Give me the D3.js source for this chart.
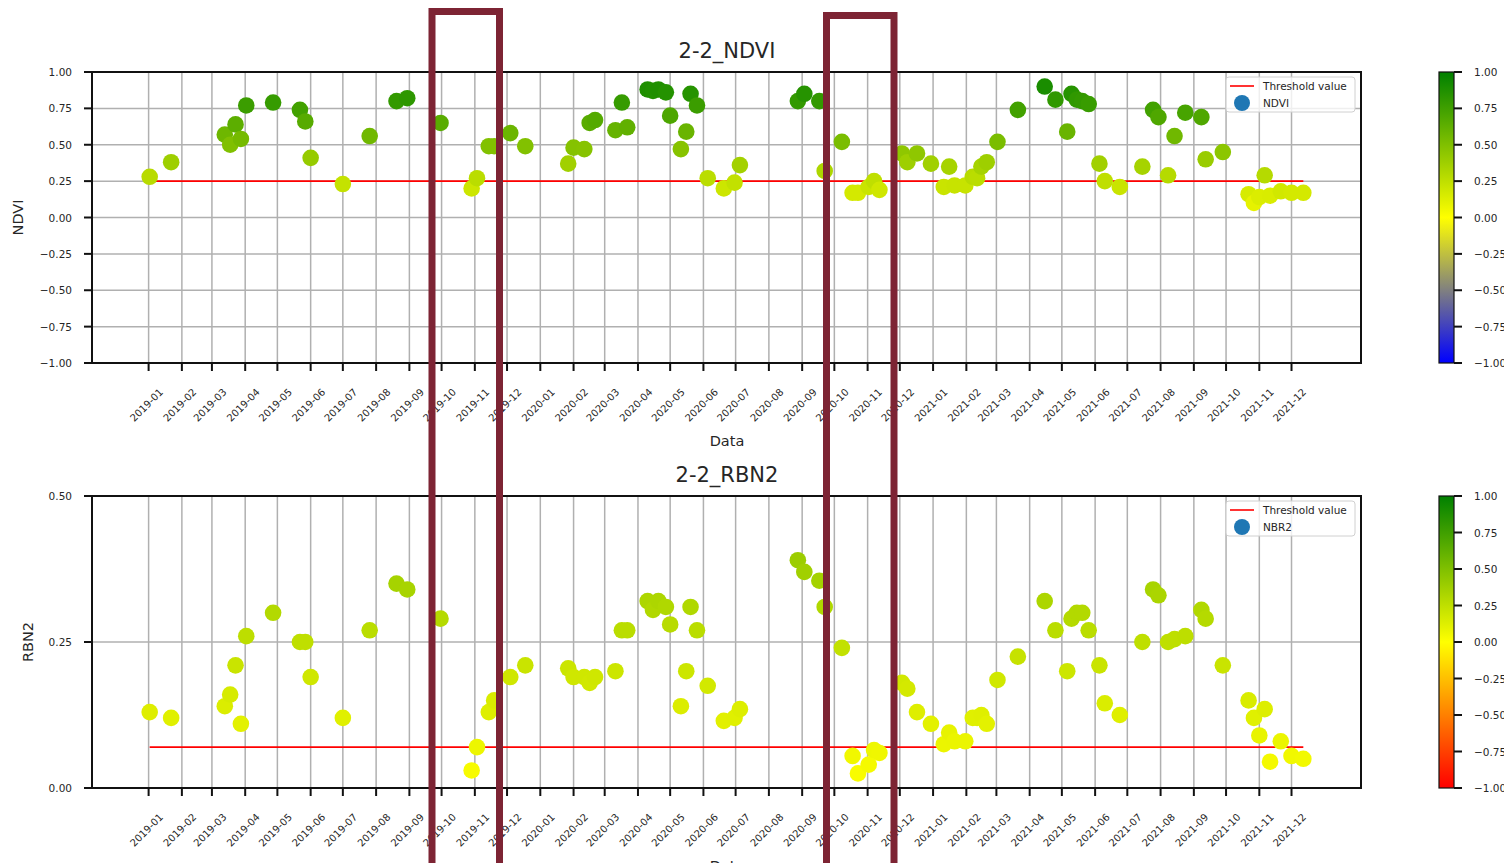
<!DOCTYPE html>
<html lang="en">

<head>
    <meta charset="UTF-8">
    <title>2-2 NDVI / RBN2</title>
    <script src="https://cdn.jsdelivr.net/npm/d3@7"></script>
    <style>
        body { margin: 0; background: white; }
        text { font-family: "DejaVu Sans", sans-serif; fill: #262626; }
    </style>
</head>

<body>
    <svg id="chart" width="1504" height="863"></svg>

    <script type="text/javascript">

        // acquisition dates (same for both indices)
        const dates = [
            "2019-01-02", "2019-01-22", "2019-03-13", "2019-03-18", "2019-03-23", "2019-03-28", "2019-04-02", "2019-04-27",
            "2019-05-22", "2019-05-27", "2019-06-01", "2019-07-01", "2019-07-26", "2019-08-20", "2019-08-30", "2019-09-30",
            "2019-10-29", "2019-11-03", "2019-11-14", "2019-11-19", "2019-12-04", "2019-12-18",
            "2020-01-27", "2020-02-01", "2020-02-11", "2020-02-16", "2020-02-21", "2020-03-11", "2020-03-17", "2020-03-22",
            "2020-04-10", "2020-04-15", "2020-04-20", "2020-04-27", "2020-05-01", "2020-05-11", "2020-05-16", "2020-05-20",
            "2020-05-26", "2020-06-05", "2020-06-20", "2020-06-30", "2020-07-05", "2020-08-28", "2020-09-03", "2020-09-17",
            "2020-09-22", "2020-10-08", "2020-10-18", "2020-10-23", "2020-11-02", "2020-11-07", "2020-11-12", "2020-12-03",
            "2020-12-08", "2020-12-17", "2020-12-30",
            "2021-01-11", "2021-01-16", "2021-01-21", "2021-01-31", "2021-02-07", "2021-02-11", "2021-02-15", "2021-02-20",
            "2021-03-02", "2021-03-21", "2021-04-15", "2021-04-25", "2021-05-06", "2021-05-10", "2021-05-15", "2021-05-20",
            "2021-05-26", "2021-06-05", "2021-06-10", "2021-06-24", "2021-07-15", "2021-07-25", "2021-07-30", "2021-08-08",
            "2021-08-14", "2021-08-24", "2021-09-08", "2021-09-12", "2021-09-28", "2021-10-22", "2021-10-27", "2021-11-01",
            "2021-11-06", "2021-11-11", "2021-11-21", "2021-12-01", "2021-12-12"
        ]

        const ndvi = [
            0.28, 0.38, 0.57, 0.50, 0.64, 0.54, 0.77, 0.79, 0.74, 0.66, 0.41, 0.23, 0.56, 0.80, 0.82, 0.65,
            0.20, 0.27, 0.49, 0.49, 0.58, 0.49,
            0.37, 0.48, 0.47, 0.65, 0.67, 0.60, 0.79, 0.62, 0.88, 0.87, 0.88, 0.86, 0.70, 0.47, 0.59, 0.85,
            0.77, 0.27, 0.20, 0.24, 0.36, 0.80, 0.85, 0.80, 0.32, 0.52, 0.17, 0.17, 0.21, 0.25, 0.19, 0.44,
            0.38, 0.44, 0.37,
            0.21, 0.35, 0.22, 0.22, 0.28, 0.27, 0.35, 0.38, 0.52, 0.74, 0.90, 0.81, 0.59, 0.85, 0.81, 0.80,
            0.78, 0.37, 0.25, 0.21, 0.35, 0.74, 0.69, 0.29, 0.56, 0.72, 0.69, 0.40, 0.45, 0.16, 0.10, 0.14,
            0.29, 0.15, 0.18, 0.17, 0.17
        ]

        const rbn2 = [
            0.13, 0.12, 0.14, 0.16, 0.21, 0.11, 0.26, 0.30, 0.25, 0.25, 0.19, 0.12, 0.27, 0.35, 0.34, 0.29,
            0.03, 0.07, 0.13, 0.15, 0.19, 0.21,
            0.205, 0.19, 0.19, 0.18, 0.19, 0.20, 0.27, 0.27, 0.32, 0.305, 0.32, 0.31, 0.28, 0.14, 0.20, 0.31,
            0.27, 0.175, 0.115, 0.12, 0.135, 0.39, 0.37, 0.355, 0.31, 0.24, 0.055, 0.025, 0.04, 0.065, 0.06, 0.18,
            0.17, 0.13, 0.11,
            0.075, 0.095, 0.08, 0.08, 0.12, 0.12, 0.125, 0.11, 0.185, 0.225, 0.32, 0.27, 0.20, 0.29, 0.30, 0.30,
            0.27, 0.21, 0.145, 0.125, 0.25, 0.34, 0.33, 0.25, 0.255, 0.26, 0.305, 0.29, 0.21, 0.15, 0.12, 0.09,
            0.135, 0.045, 0.08, 0.055, 0.05
        ]

        const thresholdNdvi = 0.25
        const thresholdRbn2 = 0.07

        const ndviTicks = [-1, -0.75, -0.5, -0.25, 0, 0.25, 0.5, 0.75, 1]
        const rbn2Ticks = [0, 0.25, 0.5]
        const cbarTicks = [-1, -0.75, -0.5, -0.25, 0, 0.25, 0.5, 0.75, 1]

        const svg = d3.select('#chart')
        const parse = d3.utcParse('%Y-%m-%d')
        const xDates = dates.map(parse)

        // matplotlib style 5% margins
        const [d0, d1] = d3.extent(xDates)
        const pad = (d1 - d0) * 0.05
        const x = d3.scaleUtc()
            .domain([new Date(+d0 - pad), new Date(+d1 + pad)])
            .range([92, 1361])

        const months = d3.utcMonth.range(new Date(Date.UTC(2019, 0, 1)), new Date(Date.UTC(2022, 0, 1)))
        const fmt = d3.format('.2f')

        function panel(cfg) {
            const y = d3.scaleLinear().domain(cfg.domain).range([cfg.bottom, cfg.top])
            const color = d3.scaleLinear().domain([-1, 0, 1]).range(cfg.cmap)
            const g = svg.append('g')

            // grid
            g.selectAll('.vg').data(months).join('line')
                .attr('x1', d => x(d)).attr('x2', d => x(d))
                .attr('y1', cfg.top).attr('y2', cfg.bottom)
                .attr('stroke', '#b0b0b0').attr('stroke-width', 1.5)
            g.selectAll('.hg').data(cfg.ticks).join('line')
                .attr('x1', 92).attr('x2', 1361)
                .attr('y1', d => y(d)).attr('y2', d => y(d))
                .attr('stroke', '#b0b0b0').attr('stroke-width', 1.5)

            // threshold line
            g.append('line')
                .attr('x1', x(d0)).attr('x2', x(d1))
                .attr('y1', y(cfg.threshold)).attr('y2', y(cfg.threshold))
                .attr('stroke', '#ff0000').attr('stroke-width', 1.6)

            // points
            g.selectAll('circle.pt').data(cfg.values).join('circle')
                .attr('class', 'pt')
                .attr('cx', (d, i) => x(xDates[i]))
                .attr('cy', d => y(d))
                .attr('r', 8.3)
                .attr('fill', d => color(d))

            // frame
            g.append('rect')
                .attr('x', 92).attr('y', cfg.top)
                .attr('width', 1361 - 92).attr('height', cfg.bottom - cfg.top)
                .attr('fill', 'none').attr('stroke', '#111').attr('stroke-width', 2)

            // x ticks
            g.selectAll('.xt').data(months).join('line')
                .attr('x1', d => x(d)).attr('x2', d => x(d))
                .attr('y1', cfg.bottom).attr('y2', cfg.bottom + 8)
                .attr('stroke', '#111').attr('stroke-width', 2)
            g.selectAll('.xl').data(months).join('text')
                .attr('transform', d => `translate(${x(d) - 2},${cfg.bottom + 42}) rotate(-45)`)
                .attr('text-anchor', 'middle')
                .attr('dominant-baseline', 'central')
                .style('font-size', '10px')
                .text(d3.utcFormat('%Y-%m'))

            // y ticks
            g.selectAll('.yt').data(cfg.ticks).join('line')
                .attr('x1', 84).attr('x2', 92)
                .attr('y1', d => y(d)).attr('y2', d => y(d))
                .attr('stroke', '#111').attr('stroke-width', 2)
            g.selectAll('.yl').data(cfg.ticks).join('text')
                .attr('x', 72).attr('y', d => y(d))
                .attr('text-anchor', 'end')
                .attr('dominant-baseline', 'central')
                .style('font-size', '10.5px')
                .text(d => fmt(d))

            // titles
            g.append('text')
                .attr('x', 727).attr('y', cfg.top - 14)
                .attr('text-anchor', 'middle')
                .style('font-size', '21px')
                .text(cfg.title)
            g.append('text')
                .attr('x', 727).attr('y', cfg.bottom + 83)
                .attr('text-anchor', 'middle')
                .style('font-size', '14.5px')
                .text('Data')
            g.append('text')
                .attr('transform', `translate(${cfg.ylabX},${(cfg.top + cfg.bottom) / 2}) rotate(-90)`)
                .attr('text-anchor', 'middle')
                .style('font-size', '14.5px')
                .text(cfg.ylabel)

            // legend
            const lg = g.append('g').attr('transform', `translate(1226,${cfg.top + 5})`)
            lg.append('rect')
                .attr('width', 129).attr('height', 35).attr('rx', 3)
                .attr('fill', 'white').attr('fill-opacity', 0.8)
                .attr('stroke', '#d0d0d0')
            lg.append('line')
                .attr('x1', 4).attr('x2', 28).attr('y1', 9).attr('y2', 9)
                .attr('stroke', '#ff0000').attr('stroke-width', 1.6)
            lg.append('text')
                .attr('x', 37).attr('y', 9).attr('dominant-baseline', 'central')
                .style('font-size', '10.5px')
                .text('Threshold value')
            lg.append('circle')
                .attr('cx', 16).attr('cy', 26).attr('r', 8).attr('fill', '#1f77b4')
            lg.append('text')
                .attr('x', 37).attr('y', 26).attr('dominant-baseline', 'central')
                .style('font-size', '10.5px')
                .text(cfg.legendName)

            // colorbar
            const cb = d3.scaleLinear().domain([-1, 1]).range([cfg.bottom, cfg.top])
            const gid = 'grad-' + cfg.ylabel
            const grad = svg.append('defs').append('linearGradient')
                .attr('id', gid).attr('x1', 0).attr('x2', 0).attr('y1', 1).attr('y2', 0)
            grad.selectAll('stop').data(d3.range(0, 1.0001, 0.05)).join('stop')
                .attr('offset', d => d)
                .attr('stop-color', d => color(d * 2 - 1))
            g.append('rect')
                .attr('x', 1439).attr('y', cfg.top)
                .attr('width', 15).attr('height', cfg.bottom - cfg.top)
                .attr('fill', `url(#${gid})`)
                .attr('stroke', '#111').attr('stroke-width', 1.2)
            g.selectAll('.ct').data(cbarTicks).join('line')
                .attr('x1', 1454).attr('x2', 1462)
                .attr('y1', d => cb(d)).attr('y2', d => cb(d))
                .attr('stroke', '#111').attr('stroke-width', 2)
            g.selectAll('.cl').data(cbarTicks).join('text')
                .attr('x', 1474).attr('y', d => cb(d))
                .attr('dominant-baseline', 'central')
                .style('font-size', '10.5px')
                .text(d => fmt(d))
        }

        panel({
            values: ndvi, domain: [-1, 1], ticks: ndviTicks, top: 72, bottom: 363,
            threshold: thresholdNdvi, title: '2-2_NDVI', ylabel: 'NDVI', legendName: 'NDVI', ylabX: 23,
            cmap: ['#0000ff', '#ffff00', '#008000']
        })

        panel({
            values: rbn2, domain: [0, 0.5], ticks: rbn2Ticks, top: 496, bottom: 788,
            threshold: thresholdRbn2, title: '2-2_RBN2', ylabel: 'RBN2', legendName: 'NBR2', ylabX: 33,
            cmap: ['#ff0000', '#ffff00', '#008000']
        })

        // highlight boxes drawn over the figure
        svg.append('rect')
            .attr('x', 432).attr('y', 11.5).attr('width', 67.5).attr('height', 900)
            .attr('fill', 'none').attr('stroke', '#7d2434').attr('stroke-width', 7)
        svg.append('rect')
            .attr('x', 826.5).attr('y', 15.5).attr('width', 67.5).attr('height', 900)
            .attr('fill', 'none').attr('stroke', '#7d2434').attr('stroke-width', 7)

    </script>
</body>

</html>
